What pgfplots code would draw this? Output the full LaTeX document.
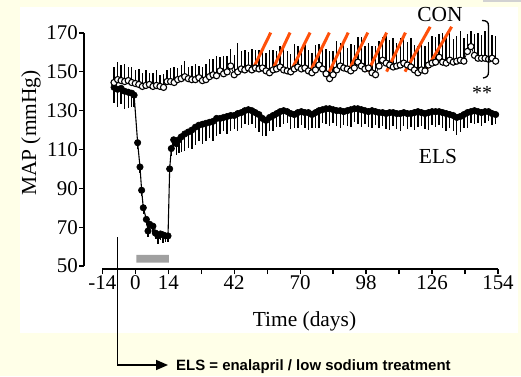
\documentclass[border=0pt]{standalone}
\usepackage{pgfplots}
\usepackage{pgfplotstable}
\pgfplotsset{compat=1.18}
\usepackage{fontspec}
\setmainfont{Liberation Serif}
\newfontfamily\arialfont{Liberation Sans}
\usetikzlibrary{arrows.meta}
\definecolor{cream}{RGB}{255,255,232}
\definecolor{slashc}{RGB}{255,80,10}
\definecolor{bargray}{RGB}{160,160,160}

\pgfplotstableread{
d v e
-9 144.5 8
-7.5 146 9
-6 145.5 8
-4.5 145 9
-3 145.5 7
-1.5 144.5 8
0 144 7
1.5 143.5 8
3 142.5 7
4.5 143 8
6 143.5 6
7.5 142.5 7
9 143 8
10.5 142.5 6
12 142 7
13.5 145 6
15 145 7
16.5 144.5 8
18 146 6
19.5 146.5 7
21 147.5 8
22.5 146.5 6
24 146 7
25.5 146 8
27 147 6
28.5 145.5 7
30 146 8
31.5 147.5 9
33 148.5 8
34.5 148 10
36 150.5 7
37.5 149 9
39 150 8
40.5 153 9
42 148.5 10
43.5 150 15
45 151.5 9
46.5 151 10
48 152 8
49.5 151 11
51 152 9
52.5 151.5 10
54 152 11
55.5 150.5 9
57 149.5 12
58.5 151 10
60 151.5 9
61.5 152.5 11
63 151 12
64.5 150.5 10
66 150 9
67.5 151.5 13
69 152.5 11
70.5 151.5 10
72 152 12
73.5 150.5 11
75 149.5 10
76.5 151 13
78 153.5 11
79.5 151.5 12
81 149 13
82.5 146.5 14
84 148.5 12
85.5 151 15
87 153 12
88.5 152 13
90 151.5 11
91.5 150.5 14
93 152 12
94.5 155 13
96 153 15
97.5 151.5 12
99 152 13
100.5 149.5 14
102 148.5 15
103.5 153 13
105 156 12
106.5 154.5 14
108 153.5 13
109.5 152.5 15
111 153 12
112.5 153.5 14
114 154.5 13
115.5 153.5 12
117 152.5 15
118.5 151 13
120 149.5 14
121.5 151 15
123 150.5 13
124.5 153.5 12
126 154.5 14
127.5 155 13
129 157.5 12
130.5 155 15
132 154.5 13
133.5 156 14
135 155 12
136.5 155.5 13
138 156 15
139.5 155.5 12
141 160.5 9
142.5 163 8
144 158.5 11
145.5 157 13
147 157 12
148.5 157 14
150 156.5 13
151.5 157 12
153 155.5 13
}\con

\pgfplotstableread{
d v e
-9 142 8
-7.5 141 9
-6 141.5 8
-4.5 140 9
-3 139.5 8
-1.5 139 7
-0.5 138 6
1 113.5 3
2 101 3
2.7 89 3
3.4 80 3
4.7 74 3
5.4 68 3
6.1 71.5 3
7.5 70.5 4
8.5 67 3
9.6 65.5 4
10.7 66.5 3
11.8 66 4
12.8 65.5 3
13.9 65.5 3
14.6 100 3
15.3 110.5 4
16.3 115 5
17.5 113 6
18.5 115 7
19.5 116.5 8
21 118 9
22.5 119 8
24 120 10
25.5 121.5 9
27 122.5 8
28.5 123 10
30 123.5 9
31.5 124 8
33 124.5 10
34.5 126 9
36 126 8
37.5 126.5 7
39 127 9
40.5 127.5 8
42 127.5 7
43.5 128.5 9
45 129 8
46.5 130 7
48 130.5 8
49.5 130 7
51 129 8
52.5 128 9
54 126 9
55.5 125 8
57 126.5 7
58.5 127.5 8
60 128.5 7
61.5 129.5 8
63 130 7
64.5 129.5 6
66 128.5 8
67.5 128 7
69 129 8
70.5 129.5 7
72 129 8
73.5 129 9
75 128 7
76.5 129 8
78 130 9
79.5 130.5 7
81 131 8
82.5 131 9
84 130.5 7
85.5 130 8
87 130 9
88.5 129.5 7
90 130 8
91.5 130.5 9
93 131 7
94.5 131 8
96 130.5 9
97.5 130 7
99 129.5 8
100.5 130 9
102 129.5 7
103.5 129 8
105 129 7
106.5 128.5 8
108 129 9
109.5 129 7
111 128.5 8
112.5 128.5 9
114 129 7
115.5 128.5 8
117 128.5 7
118.5 129 9
120 129.5 8
121.5 129 7
123 128.5 8
124.5 129 9
126 129.5 7
127.5 129.5 8
129 129.5 7
130.5 129 8
132 128.5 9
133.5 128 7
135 127.5 8
136.5 126.5 9
138 127 8
139.5 128 7
141 129 8
142.5 129.5 6
144 130 7
145.5 129.5 6
147 129 7
148.5 129.5 6
150 129.5 5
151.5 128.5 6
153 128 5
}\els

\begin{document}
\begin{tikzpicture}[x=1bp,y=1bp]
\useasboundingbox (0,0) rectangle (521,376);
\fill[cream] (0,0) rectangle (521,376);
\fill[white] (20,43) rectangle (518,369);
\fill[gray!35] (483,374) rectangle (521,376);
\begin{axis}[
  at={(84bp,107bp)}, anchor=south west,
  scale only axis, width=414bp, height=236bp,
  xmin=-21.77, xmax=154, ymin=48.45, ymax=170,
  axis line style={draw=none},
  tick align=outside, xtick pos=bottom, ytick pos=left,
  xtick={-14,0,14,28,42,56,70,84,98,112,126,140,154},
  xticklabels={-14,0,14,,42,,70,,98,,126,,154},
  ytick={50,70,90,110,130,150,170},
  yticklabels={50,70,90,110,130,150,170},
  major tick length=5bp,
  every tick/.style={black, line width=1.3bp},
  tick label style={font=\fontsize{21}{24}\selectfont, inner sep=1bp},
  clip=false,
]
% axis lines (detached)
\draw[line width=1.6bp] (axis cs:-21.77,50) -- (axis cs:-21.77,170);
\draw[line width=1.6bp] (axis cs:-14,48.45) -- (axis cs:154,48.45);
% treatment bar
\addplot[draw=none, fill=bargray] coordinates {(0.5,51.7) (14.3,51.7) (14.3,55.7) (0.5,55.7) (0.5,51.7)};
% ELS
\addplot[black, line width=1.1bp, mark=*, mark size=3.2bp, mark options={fill=black, line width=0.6bp},
  error bars/.cd, y dir=minus, y explicit, error mark=none, error bar style={line width=1.4bp}]
  table[x=d, y=v, y error=e] {\els};
% CON
\addplot[black, line width=0.7bp, mark=*, mark size=3.1bp, mark options={fill=white, line width=1.1bp},
  error bars/.cd, y dir=plus, y explicit, error mark=none, error bar style={line width=1.4bp}]
  table[x=d, y=v, y error=e] {\con};
% orange slashes
\addplot[slashc, line width=3bp, unbounded coords=jump] coordinates {
 (49.4,150.1) (57.5,170.2) (57.7,nan)
 (57.9,150.1) (65.7,170.2) (65.8,nan)
 (66.0,150.1) (74.2,170.2) (74.2,nan)
 (74.2,150.1) (82.4,170.2) (82.4,nan)
 (82.4,150.1) (90.4,170.2) (90.4,nan)
 (90.4,150.1) (98.7,170.2) (98.7,nan)
 (98.8,150.1) (106.7,170.2) (106.7,nan)
 (106.7,150.1) (114.7,170.2) (114.7,nan)
 (114.5,150.1) (125.2,173.2) (125.2,nan)
 (123.0,150.1) (134.3,173.2)
};
\end{axis}
% labels
\node[font=\fontsize{21.5}{25}\selectfont] at (304.5,55) {Time (days)};
\node[font=\fontsize{21.5}{25}\selectfont, rotate=90] at (31,243) {MAP (mmHg)};
\node[font=\fontsize{21.5}{25}\selectfont] at (440,361) {CON};
\node[font=\fontsize{21.5}{25}\selectfont] at (438,219) {ELS};
\node[font=\fontsize{20}{24}\selectfont, anchor=base] at (482,277) {**};
\draw[line width=1.3bp] (482,355.5) .. controls (486.5,355.5) and (488.5,354) .. (488.5,350) -- (488.5,304) .. controls (488.5,300) and (486.5,298.5) .. (483,298);
% bottom annotation
\draw[line width=1.6bp, -{Triangle[length=12bp,width=10bp]}] (117.5,139) -- (117.5,11) -- (168,11);
\node[anchor=base west, inner sep=0pt, font=\arialfont\bfseries\fontsize{15}{18}\selectfont] at (176,6) {ELS = enalapril / low sodium treatment};
\end{tikzpicture}
\end{document}
